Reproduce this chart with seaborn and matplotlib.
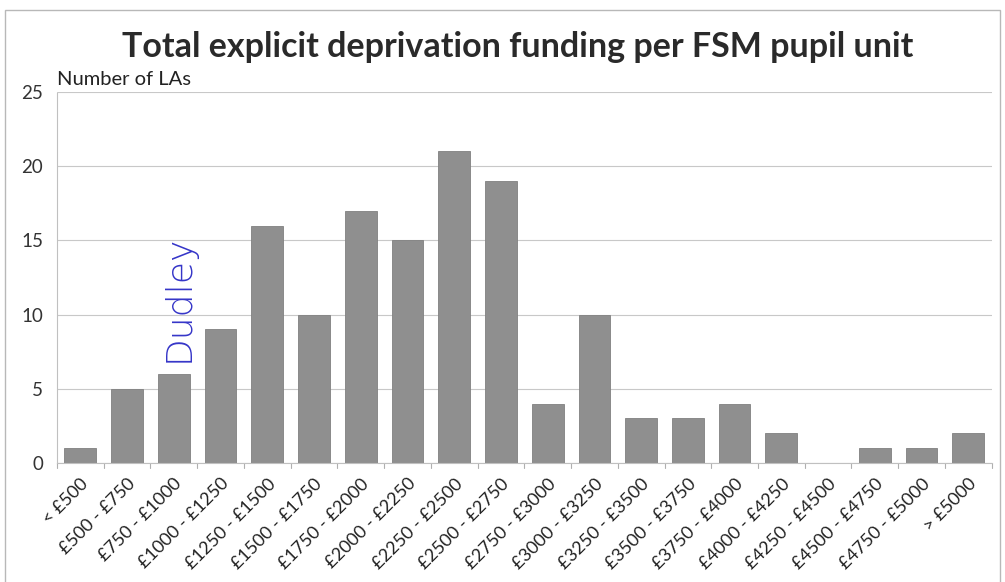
import pandas as pd
import seaborn as sns
import matplotlib.pyplot as plt
from matplotlib.patches import Rectangle

# funding bands and number of LAs in each band
bands = ["< £500", "£500 - £750", "£750 - £1000", "£1000 - £1250", "£1250 - £1500",
         "£1500 - £1750", "£1750 - £2000", "£2000 - £2250", "£2250 - £2500",
         "£2500 - £2750", "£2750 - £3000", "£3000 - £3250", "£3250 - £3500",
         "£3500 - £3750", "£3750 - £4000", "£4000 - £4250", "£4250 - £4500",
         "£4500 - £4750", "£4750 - £5000", "> £5000"]
counts = [1, 5, 6, 9, 16, 10, 17, 15, 21, 19, 4, 10, 3, 3, 4, 2, 0, 1, 1, 2]
y_ticks = [0, 5, 10, 15, 20, 25]

df = pd.DataFrame({"band": bands, "count": counts})

sns.set_style("white")
plt.rcParams["font.family"] = ["Lato", "DejaVu Sans"]

fig = plt.figure(figsize=(10.05, 5.82), dpi=100)
ax = fig.add_axes([0.0567, 0.2045, 0.93, 0.6375])

sns.barplot(data=df, x="band", y="count", color="#8f8f8f", saturation=1,
            width=0.68, edgecolor="#808080", linewidth=0.6, ax=ax)

ax.set_ylim(0, 25)
ax.set_yticks(y_ticks)
ax.set_xlim(-0.5, len(bands) - 0.5)
ax.yaxis.grid(True, color="#c8c8c8", linewidth=0.8)
ax.set_axisbelow(True)
ax.set_xlabel("")
ax.set_ylabel("")
ax.tick_params(axis="y", labelsize=13.5, colors="#333333", length=0, pad=10)
ax.tick_params(axis="x", labelsize=13, colors="#222222", length=0, pad=9)
plt.setp(ax.get_xticklabels(), rotation=45, ha="right", rotation_mode="anchor")

for side in ["top", "right"]:
    ax.spines[side].set_visible(False)
ax.spines["left"].set_color("#c0c0c0")
ax.spines["left"].set_linestyle((0, (1, 1)))
ax.spines["bottom"].set_color("#c0c0c0")

# small category boundary ticks like Excel
for b in range(len(bands) + 1):
    ax.plot([b - 0.5, b - 0.5], [0, -0.35], color="#b0b0b0", lw=0.8, clip_on=False)

ax.text(0, 1.01, "Number of LAs", transform=ax.transAxes, fontsize=14.5,
        color="#222222", ha="left", va="bottom")
fig.text(0.515, 0.92, "Total explicit deprivation funding per FSM pupil unit",
         fontsize=24.5, fontweight="bold", color="#2a2a2a", ha="center", va="center")

# handwritten note
ax.text(2.1, 6.8, "Dudley", rotation=90, ha="center", va="bottom",
        fontsize=26, color="#3535c8", family=["DejaVu Sans"], fontweight="light")

fig.patches.append(Rectangle((0.005, -0.01), 0.99, 0.993, transform=fig.transFigure,
                             fill=False, edgecolor="#b8b8b8", linewidth=1))

fig.savefig("out.png", dpi=100)
